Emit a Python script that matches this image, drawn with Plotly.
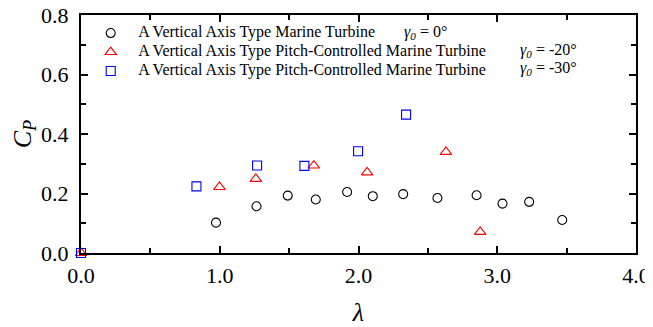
import plotly.graph_objects as go

# Data
lam_0 = [0.973, 1.265, 1.49, 1.692, 1.918, 2.103, 2.322, 2.569, 2.851, 3.038, 3.23, 3.468]
cp_0 = [0.102, 0.157, 0.193, 0.180, 0.205, 0.191, 0.198, 0.185, 0.194, 0.166, 0.172, 0.111]

lam_20 = [0.0, 0.998, 1.26, 1.678, 2.062, 2.63, 2.877]
cp_20 = [0.0, 0.222, 0.249, 0.294, 0.271, 0.340, 0.071]

lam_30 = [0.0, 0.832, 1.269, 1.61, 1.997, 2.343]
cp_30 = [0.0, 0.224, 0.294, 0.293, 0.342, 0.465]

names = [
    "A Vertical Axis Type Marine Turbine",
    "A Vertical Axis Type Pitch-Controlled Marine Turbine",
    "A Vertical Axis Type Pitch-Controlled Marine Turbine",
]
gammas = ["0°", "-20°", "-30°"]

FONT = "Liberation Serif"
LEG = 16

def leg_name(s):
    return f"<span style='font-size:{LEG}px'>{s}</span>"

fig = go.Figure()
fig.add_trace(go.Scatter(x=lam_0, y=cp_0, mode="markers", name=leg_name(names[0]),
                         marker=dict(symbol="circle-open", size=9, color="black",
                                     line=dict(width=1.1, color="black")),
                         cliponaxis=False))
fig.add_trace(go.Scatter(x=lam_20, y=cp_20, mode="markers", name=leg_name(names[1]),
                         marker=dict(symbol="triangle-up-open", size=10, color="red",
                                     line=dict(width=1.1, color="red")),
                         cliponaxis=False))
fig.add_trace(go.Scatter(x=lam_30, y=cp_30, mode="markers", name=leg_name(names[2]),
                         marker=dict(symbol="square-open", size=9, color="blue",
                                     line=dict(width=1.1, color="blue")),
                         cliponaxis=False))

axis_common = dict(
    showline=True, linecolor="black", linewidth=2, mirror="ticks",
    ticks="inside", ticklen=7, tickwidth=1.5, tickcolor="black",
    showgrid=False, zeroline=False, automargin=False,
    ticklabeloverflow="allow",
    tickfont=dict(family=FONT, size=22, color="black"),
)

fig.update_xaxes(range=[0, 4], dtick=1.0, tickformat=".1f",
                 minor=dict(ticks="inside", ticklen=5, dtick=0.5, tickcolor="black", tickwidth=1.5),
                 ticklabelstandoff=2,
                 title=dict(text="<i>λ</i>", font=dict(family=FONT, size=26, color="black"), standoff=21),
                 **axis_common)
fig.update_yaxes(range=[0, 0.8], dtick=0.2, tickformat=".1f",
                 minor=dict(ticks="inside", ticklen=5, dtick=0.1, tickcolor="black", tickwidth=1.5),
                 ticklabelstandoff=6,
                 title=dict(text="<i>C<sub>P</sub></i>", font=dict(family=FONT, size=26, color="black"), standoff=6),
                 **axis_common)

gx = [0.578, 0.787, 0.787]
gy = [0.925, 0.850, 0.775]
for g, x, y in zip(gammas, gx, gy):
    fig.add_annotation(text=f"<i>γ<sub>0</sub></i> = {g}", xref="paper", yref="paper",
                       x=x, y=y, xanchor="left", yanchor="middle", showarrow=False,
                       font=dict(family=FONT, size=LEG, color="black"))

# the page body adds an 8px offset, so the figure is sized to fill the rest of the window
fig.update_layout(
    width=645, height=319,
    margin=dict(l=73, r=17, t=7, b=74, autoexpand=False),
    paper_bgcolor="white", plot_bgcolor="white",
    font=dict(family=FONT, color="black"),
    legend=dict(x=0.004, y=0.985, xanchor="left", yanchor="top",
                font=dict(family=FONT, size=10, color="black"),
                bgcolor="rgba(0,0,0,0)", tracegroupgap=0, itemwidth=45),
    showlegend=True,
)

fig.write_html("out.html")
